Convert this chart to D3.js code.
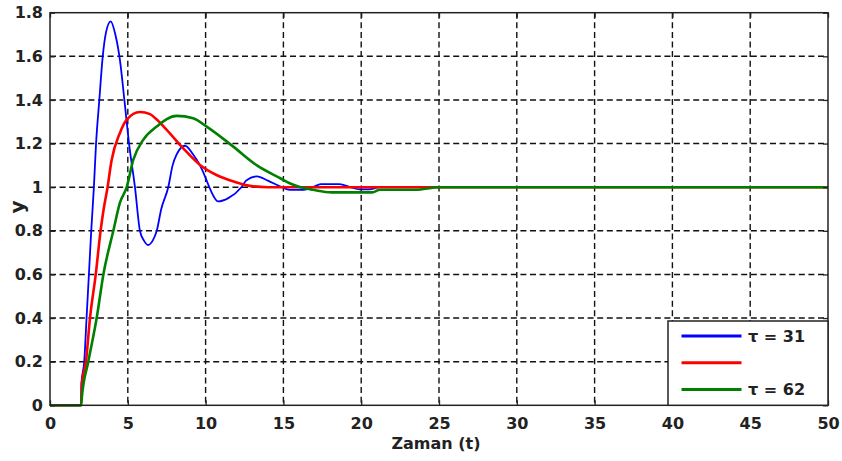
<!DOCTYPE html>
<html>
<head>
<meta charset="utf-8">
<script src="https://cdn.jsdelivr.net/npm/d3@7"></script>
<style>
  body { margin: 0; background: #fff; }
  svg { display: block; font-family: 'DejaVu Sans', sans-serif; font-weight: bold; }
</style>
</head>
<body>
<svg width="842" height="461"></svg>
<script>
// step responses: [time, y]
const blueCurve = [
  [0, 0], [2, 0], [2.02, 0.1], [2.2, 0.2], [2.35, 0.4], [2.5, 0.6], [2.65, 0.8],
  [2.82, 1.0], [2.96, 1.2], [3.17, 1.4], [3.39, 1.6], [3.6, 1.71], [3.9, 1.76],
  [4.2, 1.7], [4.5, 1.58], [4.78, 1.4], [5.08, 1.2], [5.46, 1.0], [5.78, 0.8],
  [6.04, 0.755], [6.3, 0.735], [6.6, 0.755], [6.86, 0.8], [7.15, 0.9], [7.6, 1.0],
  [7.88, 1.1], [8.14, 1.15], [8.68, 1.19], [9.2, 1.15], [9.64, 1.1], [9.96, 1.05],
  [10.3, 0.99], [10.8, 0.935], [11.46, 0.95], [12.3, 1.0], [12.6, 1.03], [13.3, 1.05],
  [14.0, 1.03], [14.9, 1.0], [15.4, 0.988], [16.3, 0.988], [16.9, 1.0], [17.4, 1.014],
  [18.6, 1.014], [19.3, 1.0], [19.9, 0.99], [20.5, 0.99], [21.2, 1.0], [50, 1.0]
]
const redCurve = [
  [0, 0], [2, 0], [2.05, 0.1], [2.31, 0.2], [2.57, 0.4], [2.94, 0.6], [3.25, 0.8],
  [3.45, 0.9], [3.7, 1.0], [3.95, 1.12], [4.5, 1.25], [4.93, 1.31], [5.78, 1.345],
  [6.43, 1.335], [6.86, 1.31], [7.5, 1.263], [8.55, 1.179], [9.64, 1.102],
  [10.7, 1.056], [11.8, 1.026], [12.85, 1.006], [14, 1.0], [50, 1.0]
]
const greenCurve = [
  [0, 0], [2, 0], [2.05, 0.04], [2.46, 0.2], [3.0, 0.4], [3.43, 0.6], [4.07, 0.8],
  [4.5, 0.93], [4.93, 1.0], [5.35, 1.125], [5.99, 1.217], [6.86, 1.278], [8.14, 1.327],
  [9.2, 1.316], [10.07, 1.278], [11.78, 1.186], [13.3, 1.1], [14.8, 1.041],
  [15.4, 1.018], [16.1, 1.0], [16.9, 0.988], [18.1, 0.976], [20.7, 0.976],
  [21.2, 0.988], [23.5, 0.988], [25, 1.0], [50, 1.0]
]

const xTicks = [0, 5, 10, 15, 20, 25, 30, 35, 40, 45, 50]
const yTicks = [0, 0.2, 0.4, 0.6, 0.8, 1, 1.2, 1.4, 1.6, 1.8]
const seriesNames = ['τ = 31', '', 'τ = 62']
const seriesColors = ['#0000ff', '#ff0000', '#008000']

const svg = d3.select('svg')
const x = d3.scaleLinear().domain([0, 50]).range([50, 828])
const y = d3.scaleLinear().domain([0, 1.8]).range([405.3, 12.7])

// dashed grid
svg.append('g')
  .selectAll('line')
  .data(xTicks.slice(1, -1))
  .join('line')
  .attr('x1', d => x(d)).attr('x2', d => x(d))
  .attr('y1', y(1.8)).attr('y2', y(0))
  .attr('stroke', '#111').attr('stroke-width', 1.4)
  .attr('stroke-dasharray', '6,3.6')

svg.append('g')
  .selectAll('line')
  .data(yTicks.slice(1, -1))
  .join('line')
  .attr('x1', x(0)).attr('x2', x(50))
  .attr('y1', d => y(d)).attr('y2', d => y(d))
  .attr('stroke', '#111').attr('stroke-width', 1.4)
  .attr('stroke-dasharray', '6,3.6')

// curves
const line = d3.line()
  .x(d => x(d[0]))
  .y(d => y(d[1]))
  .curve(d3.curveMonotoneX)

const curves = [blueCurve, redCurve, greenCurve]
const widths = [1.8, 2.6, 2.6]
svg.append('g')
  .selectAll('path')
  .data(curves)
  .join('path')
  .attr('d', line)
  .attr('fill', 'none')
  .attr('stroke', (d, i) => seriesColors[i])
  .attr('stroke-width', (d, i) => widths[i])
  .attr('stroke-linejoin', 'round')

// axes with inward ticks
const styleAxis = g => {
  g.select('.domain').remove()
  g.selectAll('.tick line').attr('stroke', '#222').attr('stroke-width', 1.3)
  g.selectAll('.tick text').attr('fill', '#222').attr('font-size', 16)
    .attr('font-family', 'DejaVu Sans').attr('font-weight', 'bold')
}

svg.append('g')
  .attr('transform', `translate(0,${y(0)})`)
  .call(d3.axisBottom(x).tickValues(xTicks).tickFormat(d3.format('d')).tickSize(-5).tickPadding(12))
  .call(styleAxis)

svg.append('g')
  .attr('transform', `translate(0,${y(1.8)})`)
  .call(d3.axisTop(x).tickValues(xTicks).tickFormat('').tickSize(-5))
  .call(styleAxis)

svg.append('g')
  .attr('transform', `translate(${x(0)},0)`)
  .call(d3.axisLeft(y).tickValues(yTicks).tickFormat(d3.format('~g')).tickSize(-5).tickPadding(7))
  .call(styleAxis)

svg.append('g')
  .attr('transform', `translate(${x(50)},0)`)
  .call(d3.axisRight(y).tickValues(yTicks).tickFormat('').tickSize(-5))
  .call(styleAxis)

// frame
svg.append('rect')
  .attr('x', x(0)).attr('y', y(1.8))
  .attr('width', x(50) - x(0)).attr('height', y(0) - y(1.8))
  .attr('fill', 'none').attr('stroke', '#222').attr('stroke-width', 1.5)

// axis titles
svg.append('text')
  .attr('x', 436).attr('y', 449)
  .attr('text-anchor', 'middle')
  .attr('font-size', 16).attr('fill', '#222')
  .text('Zaman (t)')

svg.append('text')
  .attr('transform', 'translate(24,207) rotate(-90)')
  .attr('text-anchor', 'middle')
  .attr('font-size', 20).attr('fill', '#222')
  .text('y')

// legend
const legend = svg.append('g').attr('transform', 'translate(668,321)')
legend.append('rect')
  .attr('width', 160).attr('height', 84.3)
  .attr('fill', '#fff').attr('stroke', '#222').attr('stroke-width', 1.5)

const item = legend.selectAll('g.item')
  .data(seriesNames)
  .join('g')
  .attr('class', 'item')
  .attr('transform', (d, i) => `translate(0,${15 + i * 26.7})`)

item.append('line')
  .attr('x1', 13.5).attr('x2', 73.5)
  .attr('stroke', (d, i) => seriesColors[i])
  .attr('stroke-width', 3)

item.append('text')
  .attr('x', 80).attr('y', 5.7)
  .attr('font-size', 16).attr('fill', '#222')
  .text(d => d)
</script>
</body>
</html>
